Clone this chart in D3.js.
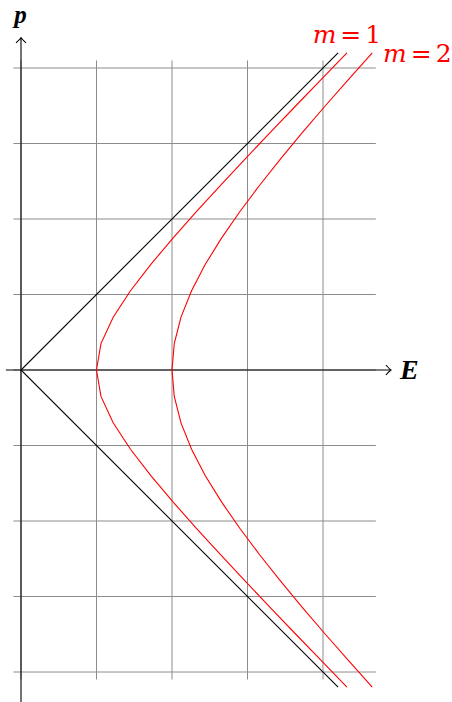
<!DOCTYPE html>
<html>
<head>
<meta charset="utf-8">
<script src="https://cdn.jsdelivr.net/npm/d3@7"></script>
<style>
  body { margin: 0; background: #fff; }
  svg { display: block; }
</style>
</head>
<body>
<svg id="chart" width="452" height="702"></svg>
<script>
// grid positions (units)
var gridE = [0, 1, 2, 3, 4];
var gridP = [-4, -3, -2, -1, 0, 1, 2, 3, 4];

var pSamples = [-4.2, -3.85, -3.5, -3.15, -2.8, -2.45, -2.1, -1.75, -1.4, -1.05, -0.7, -0.35, 0,
                0.35, 0.7, 1.05, 1.4, 1.75, 2.1, 2.45, 2.8, 3.15, 3.5, 3.85, 4.2];
var energyM1 = [4.317, 3.978, 3.640, 3.305, 2.973, 2.646, 2.326, 2.016, 1.720, 1.450, 1.221, 1.059, 1,
                1.059, 1.221, 1.450, 1.720, 2.016, 2.326, 2.646, 2.973, 3.305, 3.640, 3.978, 4.317];
var energyM2 = [4.652, 4.339, 4.031, 3.731, 3.441, 3.163, 2.900, 2.658, 2.441, 2.259, 2.119, 2.030, 2,
                2.030, 2.119, 2.259, 2.441, 2.658, 2.900, 3.163, 3.441, 3.731, 4.031, 4.339, 4.652];
// light cone (m = 0)
var coneP = [-4.2, 0, 4.2];
var coneE = [4.2, 0, 4.2];

var svg = d3.select('#chart');

var x = d3.scaleLinear().domain([0, 1]).range([21, 96.5]);
var y = d3.scaleLinear().domain([0, 1]).range([370, 294.5]);

var serif = "'Liberation Serif', 'Times New Roman', serif";
var mathSerif = "'DejaVu Serif', serif";

//grid
var grid = svg.append('g').attr('stroke', '#8c8c8c').attr('stroke-width', 1);
grid.selectAll('line.v')
    .data(gridE)
    .enter().append('line')
    .attr('class', 'v')
    .attr('x1', d => x(d)).attr('x2', d => x(d))
    .attr('y1', y(-4.1)).attr('y2', y(4.1));
grid.selectAll('line.h')
    .data(gridP)
    .enter().append('line')
    .attr('class', 'h')
    .attr('x1', x(-0.1)).attr('x2', x(4.7))
    .attr('y1', d => y(d)).attr('y2', d => y(d));

//axes with tikz-like arrow tips
var axes = svg.append('g').attr('stroke', '#000').attr('stroke-width', 1.1).attr('fill', 'none');
axes.append('line')
    .attr('x1', x(-0.2)).attr('x2', x(4.9))
    .attr('y1', y(0)).attr('y2', y(0));
axes.append('line')
    .attr('x1', x(0)).attr('x2', x(0))
    .attr('y1', y(-4.4)).attr('y2', y(4.4));
var tipE = [x(4.9), y(0)], tipP = [x(0), y(4.4)];
axes.append('path')
    .attr('d', 'M' + (tipE[0] - 5) + ',' + (tipE[1] - 5) + ' Q' + (tipE[0] - 1.5) + ',' + (tipE[1] - 1) + ' ' + tipE[0] + ',' + tipE[1] +
               ' Q' + (tipE[0] - 1.5) + ',' + (tipE[1] + 1) + ' ' + (tipE[0] - 5) + ',' + (tipE[1] + 5));
axes.append('path')
    .attr('d', 'M' + (tipP[0] - 5) + ',' + (tipP[1] + 5) + ' Q' + (tipP[0] - 1) + ',' + (tipP[1] + 1.5) + ' ' + tipP[0] + ',' + tipP[1] +
               ' Q' + (tipP[0] + 1) + ',' + (tipP[1] + 1.5) + ' ' + (tipP[0] + 5) + ',' + (tipP[1] + 5));

var line = d3.line().x(d => x(d[1])).y(d => y(d[0]));

svg.append('path')
    .datum(coneP.map((p, i) => [p, coneE[i]]))
    .attr('d', line)
    .attr('fill', 'none').attr('stroke', '#000').attr('stroke-width', 1.1);

var curves = [energyM1, energyM2];
svg.selectAll('path.hyp')
    .data(curves)
    .enter().append('path')
    .attr('class', 'hyp')
    .attr('d', e => line(pSamples.map((p, i) => [p, e[i]])))
    .attr('fill', 'none').attr('stroke', '#ff0000').attr('stroke-width', 1.1);

//axis labels
svg.append('text')
    .attr('x', x(0) - 0.5).attr('y', 23)
    .attr('text-anchor', 'middle')
    .style('font-family', serif).style('font-size', '25px')
    .style('font-style', 'italic').style('font-weight', 'bold')
    .text('p');
svg.append('text')
    .attr('x', 400).attr('y', 379)
    .style('font-family', serif).style('font-size', '28px')
    .style('font-style', 'italic').style('font-weight', 'bold')
    .text('E');

//curve labels
function massLabel(xp, yp, anchor, val) {
    var t = svg.append('text')
        .attr('x', xp).attr('y', yp)
        .attr('text-anchor', anchor)
        .style('font-family', mathSerif).style('font-size', '25px')
        .style('fill', '#ff0000');
    t.append('tspan').style('font-style', 'italic').text('m');
    t.append('tspan').attr('dx', 4).text('=');
    t.append('tspan').attr('dx', 4).text(val);
}
massLabel(x(energyM1[24]), 43, 'middle', 1);
massLabel(383, 62, 'start', 2);
</script>
</body>
</html>
